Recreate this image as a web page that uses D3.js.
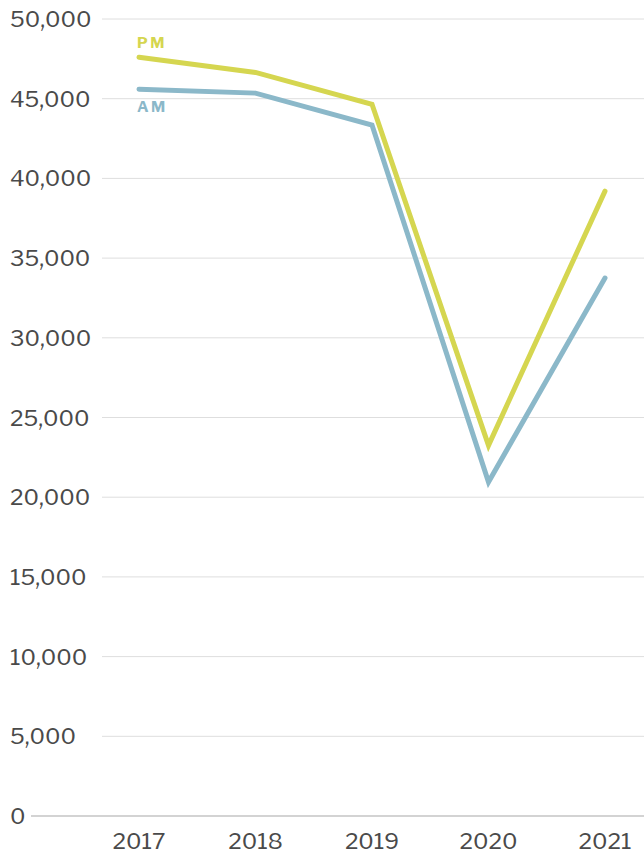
<!DOCTYPE html>
<html>
<head>
<meta charset="utf-8">
<script src="https://cdn.jsdelivr.net/npm/d3@7"></script>
<style>
  body { margin: 0; background: #fff; }
  svg text { font-family: "Libre Franklin", "Liberation Sans", Arial, sans-serif; }
</style>
</head>
<body>
<div id="chart"></div>
<script>
var years = ["2017", "2018", "2019", "2020", "2021"]
var pmValues = [47600, 46650, 44650, 23250, 39200]
var amValues = [45600, 45350, 43350, 20950, 33750]
var yTicks = [0, 5000, 10000, 15000, 20000, 25000, 30000, 35000, 40000, 45000, 50000]

var W = 644, H = 854
var svg = d3.select("#chart").append("svg").attr("width", W).attr("height", H)

var x = d3.scalePoint().domain(years).range([139, 605])
var y = d3.scaleLinear().domain([0, 50000]).range([816, 19])

// gridlines
svg.append("g").selectAll("line")
  .data(yTicks.filter(d => d > 0))
  .enter().append("line")
  .attr("x1", 102).attr("x2", W)
  .attr("y1", d => y(d)).attr("y2", d => y(d))
  .attr("stroke", "#dedede").attr("stroke-width", 1)

// baseline
svg.append("line")
  .attr("x1", 31).attr("x2", W)
  .attr("y1", y(0)).attr("y2", y(0))
  .attr("stroke", "#a8a8a8").attr("stroke-width", 1.2)

// y labels
svg.append("g").selectAll("text")
  .data(yTicks)
  .enter().append("text")
  .attr("x", 10).attr("y", d => y(d) + 8)
  .attr("font-size", 22.5).attr("fill", "#4a4a4a")
  .text(d => d3.format(",")(d))

// x labels
svg.append("g").selectAll("text")
  .data(years)
  .enter().append("text")
  .attr("x", d => x(d)).attr("y", 849)
  .attr("text-anchor", "middle")
  .attr("font-size", 22.5).attr("fill", "#4a4a4a")
  .text(d => d)

var line = d3.line().x((d, i) => x(years[i])).y(d => y(d))

svg.append("path").datum(amValues)
  .attr("d", line).attr("fill", "none")
  .attr("stroke", "#8bb8c9").attr("stroke-width", 5)
  .attr("stroke-linecap", "round").attr("stroke-linejoin", "miter")

svg.append("path").datum(pmValues)
  .attr("d", line).attr("fill", "none")
  .attr("stroke", "#d5d650").attr("stroke-width", 5)
  .attr("stroke-linecap", "round").attr("stroke-linejoin", "miter")

svg.append("text")
  .attr("x", 137).attr("y", 48)
  .attr("font-size", 15).attr("font-weight", "bold").attr("letter-spacing", 2.5)
  .attr("fill", "#d5d650").text("PM")

svg.append("text")
  .attr("x", 137).attr("y", 112)
  .attr("font-size", 15).attr("font-weight", "bold").attr("letter-spacing", 2.5)
  .attr("fill", "#8bb8c9").text("AM")
</script>
</body>
</html>
